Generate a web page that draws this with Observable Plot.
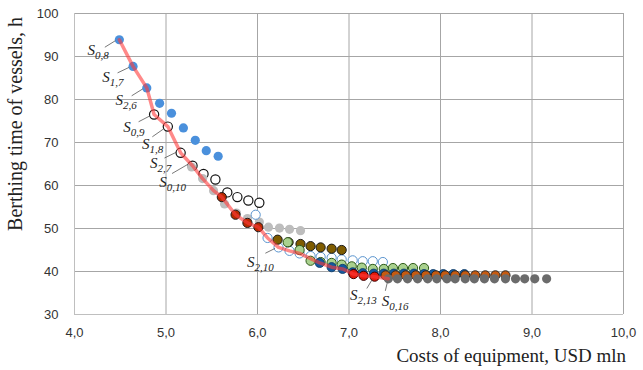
<!DOCTYPE html>
<html><head><meta charset="utf-8">
<script src="https://cdn.jsdelivr.net/npm/d3@7"></script>
<script src="https://cdn.jsdelivr.net/npm/@observablehq/plot@0.6"></script>
<style>body{margin:0;background:#fff}</style>
</head><body><div id="chart"></div>
<script>
// ---- tick labels
const xTicks = [4, 5, 6, 7, 8, 9, 10];
const yTicks = [30, 40, 50, 60, 70, 80, 90, 100];
const xTitle = "Costs of equipment, USD mln";
const yTitle = "Berthing time of vessels, h";

// ---- series values (cost, USD mln ; berthing time, h)
const blueX = [4.49, 4.64, 4.79, 4.93, 5.06, 5.19, 5.32, 5.44, 5.57];
const blueY = [93.9, 87.7, 82.7, 79.1, 76.8, 73.4, 70.5, 68.1, 66.8];

const openBlackX = [4.87, 5.02, 5.16, 5.29, 5.41, 5.54, 5.67, 5.78, 5.90, 6.02];
const openBlackY = [76.5, 73.7, 67.6, 64.6, 62.7, 61.4, 58.4, 57.3, 56.5, 56.0];

const lightGrayX = [5.28, 5.40, 5.52, 5.64, 5.77, 5.89, 6.02, 6.12, 6.24, 6.35, 6.47];
const lightGrayY = [64.3, 61.6, 58.8, 55.7, 53.6, 52.3, 51.5, 50.3, 50.1, 49.8, 49.5];

const darkRedX = [5.61, 5.76, 5.89, 6.01];
const darkRedY = [57.3, 53.2, 51.3, 50.3];

const openBlueX = [5.98, 6.11, 6.23, 6.35, 6.46, 6.58, 6.69, 6.81, 6.92, 7.04, 7.15, 7.26, 7.37];
const openBlueY = [53.2, 47.8, 45.6, 44.8, 44.2, 43.6, 43.4, 43.2, 42.8, 42.6, 42.4, 42.4, 42.2];

const brownX = [6.22, 6.34, 6.47, 6.58, 6.69, 6.81, 6.92];
const brownY = [47.4, 46.8, 46.4, 45.9, 45.6, 45.3, 45.0];

const greenX = [6.33, 6.46, 6.58, 6.69, 6.81, 6.92, 7.03, 7.14, 7.26, 7.38, 7.48, 7.59, 7.70, 7.82];
const greenY = [46.8, 45.0, 42.5, 42.2, 42.0, 41.6, 41.2, 40.9, 40.6, 40.6, 40.8, 40.8, 40.8, 40.8];

const darkBlueX = [6.68, 6.81, 6.93, 7.04, 7.15, 7.27, 7.38, 7.49, 7.60, 7.71, 7.82, 7.92, 8.03, 8.14, 8.26];
const darkBlueY = [42.0, 41.0, 40.6, 39.8, 39.6, 39.5, 39.5, 39.5, 39.5, 39.5, 39.4, 39.4, 39.4, 39.4, 39.4];

const redX = [7.05, 7.16, 7.28];
const redY = [39.4, 39.0, 38.8];

const orangeX = [7.40, 7.51, 7.62, 7.73, 7.84, 7.95, 8.05, 8.16, 8.27, 8.38, 8.49, 8.60, 8.71];
const orangeY = [39.1, 39.1, 39.1, 39.1, 39.1, 39.1, 39.1, 39.1, 39.1, 39.1, 39.1, 39.1, 39.1];

const darkGrayX = [7.43, 7.53, 7.64, 7.75, 7.86, 7.96, 8.07, 8.16, 8.27, 8.37, 8.48, 8.59, 8.71, 8.82, 8.92, 9.03, 9.16];
const darkGrayY = [38.3, 38.3, 38.3, 38.3, 38.3, 38.3, 38.3, 38.3, 38.3, 38.3, 38.3, 38.3, 38.3, 38.3, 38.3, 38.3, 38.3];

// Pareto frontier (red line)
const frontierX = [4.49, 4.64, 4.79, 4.87, 5.02, 5.16, 5.29, 5.40, 5.52, 5.61, 5.76, 5.89, 6.01, 6.11, 6.23, 6.35, 6.46, 6.58, 6.68, 6.81, 6.93, 7.05, 7.16, 7.28, 7.43];
const frontierY = [93.9, 87.7, 82.7, 76.5, 73.7, 67.6, 64.6, 61.6, 58.8, 57.3, 53.2, 51.3, 50.3, 47.8, 45.6, 44.8, 44.2, 43.0, 42.0, 41.0, 40.6, 39.4, 39.0, 38.8, 38.3];

// Labelled variants S_{i,j}
const labelSub = ["0,8", "1,7", "2,6", "0,9", "1,8", "2,7", "0,10", "2,10", "2,13", "0,16"];
const labelX = [4.49, 4.64, 4.79, 4.87, 5.02, 5.16, 5.29, 6.23, 7.28, 7.43];
const labelY = [93.9, 87.7, 82.7, 76.5, 73.7, 67.6, 64.6, 45.6, 38.8, 38.3];

// ---- styling / layout (not data)
const seriesStyle = [
  {xs: blueX, ys: blueY, fill: "#4a90dc", stroke: "none", sw: 0},
  {xs: openBlackX, ys: openBlackY, fill: "white", stroke: "#111", sw: 1.2},
  {xs: lightGrayX, ys: lightGrayY, fill: "#bdbdbd", stroke: "none", sw: 0},
  {xs: darkRedX, ys: darkRedY, fill: "#b82a00", stroke: "#1a1a1a", sw: 1},
  {xs: openBlueX, ys: openBlueY, fill: "white", stroke: "#5b95cf", sw: 1},
  {xs: brownX, ys: brownY, fill: "#7f5c00", stroke: "#1a1a1a", sw: 1},
  {xs: greenX, ys: greenY, fill: "#a9d18e", stroke: "#2f5a1a", sw: 1},
  {xs: darkBlueX, ys: darkBlueY, fill: "#14599e", stroke: "#0d3a66", sw: 0.8},
  {xs: redX, ys: redY, fill: "#e41a0c", stroke: "#3a0000", sw: 1},
  {xs: orangeX, ys: orangeY, fill: "#c55a11", stroke: "#262626", sw: 1},
  {xs: darkGrayX, ys: darkGrayY, fill: "#6b6b6b", stroke: "none", sw: 0}
];
// [text dx, baseline dy, anchor, leader x1, y1, x2, y2] in px relative to the point
const labelLayout = [
  [-10, 16, "end", -14, 8, -3.5, 1.5],
  [-9, 16, "end", -15, 7, -3.5, 1.5],
  [-9.6, 17.7, "end", -14.6, 8.4, -3.5, 1.5],
  [-9, 18, "end", -15, 7.7, -4, 2],
  [-4, 23, "end", -15, 10.7, -4, 3],
  [-9, 15.5, "end", -15.7, 5.7, -4, 0],
  [-6, 21.5, "end", -20, 8.3, -4, -1],
  [-31, 20, "start", -12.7, 6.3, -3, 1.5],
  [-24, 24, "start", -7.3, 12.3, -2, 3.5],
  [-6, 27.5, "start", -2.5, 12.5, -0.5, 4]
];

const toRows = (xs, ys) => xs.map((x, i) => ({x, y: ys[i]}));

const dotMarks = seriesStyle.map(s =>
  Plot.dot(toRows(s.xs, s.ys), {x: "x", y: "y", r: 4.6, fill: s.fill, stroke: s.stroke, strokeWidth: s.sw})
);

const plot = Plot.plot({
  width: 643, height: 370,
  marginLeft: 74, marginRight: 20, marginTop: 13, marginBottom: 56,
  x: {domain: [4, 10], label: null},
  y: {domain: [30, 100], label: null},
  style: {fontFamily: "'Liberation Sans', Arial, sans-serif", fontSize: "13px", color: "#333", background: "white"},
  marks: [
    Plot.gridX(xTicks, {stroke: "#a6a6a6", strokeOpacity: 1}),
    Plot.gridY(yTicks, {stroke: "#a6a6a6", strokeOpacity: 1}),
    Plot.ruleX([4], {stroke: "#bfbfbf"}),
    Plot.ruleY([30], {stroke: "#bfbfbf"}),
    Plot.axisX(xTicks, {tickSize: 0, tickPadding: 13, label: null, tickFormat: d => d.toFixed(1).replace(".", ",")}),
    Plot.axisY(yTicks, {tickSize: 0, tickPadding: 16, label: null}),
    ...dotMarks,
    Plot.line(toRows(frontierX, frontierY), {x: "x", y: "y", stroke: "#ff3b3b", strokeOpacity: 0.6, strokeWidth: 3.5})
  ]
});

document.getElementById("chart").append(plot);

// annotations anchored on data points through Plot's scales
const sx = plot.scale("x"), sy = plot.scale("y");
const svg = d3.select(plot);
const ann = svg.append("g");
labelSub.forEach((sub, i) => {
  const px = sx.apply(labelX[i]), py = sy.apply(labelY[i]);
  const [tdx, tdy, anchor, lx1, ly1, lx2, ly2] = labelLayout[i];
  ann.append("line")
    .attr("x1", px + lx1).attr("y1", py + ly1)
    .attr("x2", px + lx2).attr("y2", py + ly2)
    .attr("stroke", "#555").attr("stroke-width", 0.8);
  const t = ann.append("text")
    .attr("x", px + tdx).attr("y", py + tdy)
    .attr("text-anchor", anchor)
    .attr("font-family", "'Liberation Serif', 'Times New Roman', serif")
    .attr("font-style", "italic").attr("fill", "#222");
  t.append("tspan").attr("font-size", 15).text("S");
  t.append("tspan").attr("font-size", 11).attr("dy", 4).text(sub);
});

// axis titles
svg.append("text")
  .attr("x", 626).attr("y", 362).attr("text-anchor", "end")
  .attr("font-family", "'Liberation Serif', 'Times New Roman', serif")
  .attr("font-size", 19).attr("fill", "#222").text(xTitle);
svg.append("text")
  .attr("transform", "translate(22,124) rotate(-90)").attr("text-anchor", "middle")
  .attr("font-family", "'Liberation Serif', 'Times New Roman', serif")
  .attr("font-size", 20).attr("fill", "#222").text(yTitle);
</script>
</body></html>
